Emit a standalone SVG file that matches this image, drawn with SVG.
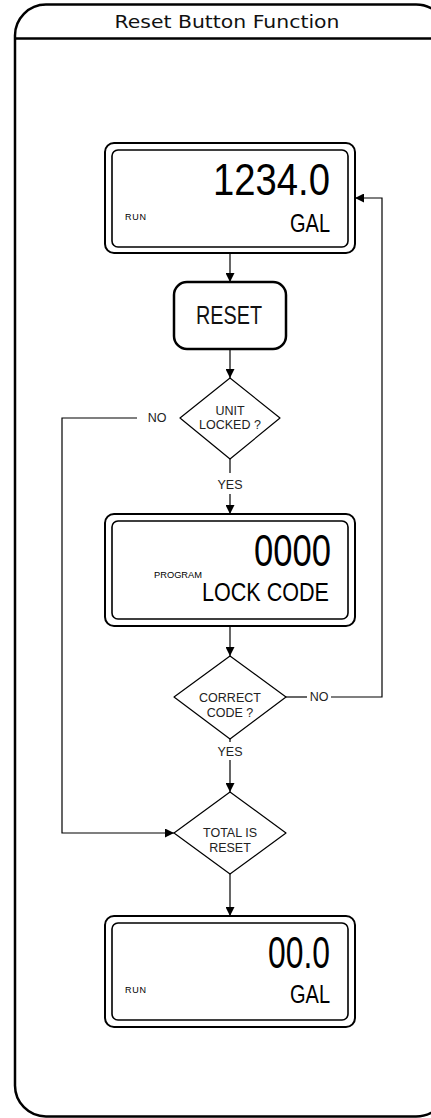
<svg xmlns="http://www.w3.org/2000/svg" width="431" height="1118" viewBox="0 0 431 1118">
<style>
.frame{fill:none;stroke:#000;stroke-width:2.5}
.outer{fill:#fff;stroke:#000;stroke-width:2}
.inner{fill:none;stroke:#000;stroke-width:1.6}
.dia{fill:#fff;stroke:#000;stroke-width:1.2;stroke-linejoin:round}
.con{fill:none;stroke:#000;stroke-width:1.2}
.lbl{font-family:"Liberation Sans",Arial,sans-serif;font-size:12.5px;fill:#222;text-anchor:middle}
.small{font-family:"Liberation Sans",Arial,sans-serif;font-size:9px;fill:#000}
.lcd{font-family:"Liberation Sans Narrow","Liberation Sans",Arial,sans-serif;fill:#000;text-anchor:end}
</style>
<defs>
<marker id="ah" viewBox="0 0 10 10" refX="10" refY="5" markerWidth="10" markerHeight="9" markerUnits="userSpaceOnUse" orient="auto">
<path d="M0,0 L10,5 L0,10 z" fill="#000"/>
</marker>
</defs>
<rect width="431" height="1118" fill="#fff"/>
<g id="frame">
<path class="frame" d="M15,36 A31,31 0 0 1 46,4.5 L416,4.5 A32,32 0 0 1 448,36.5 L448,1085 A32,32 0 0 1 416,1116.5 L46,1116.5 A31,31 0 0 1 15,1085 Z"/>
<line class="frame" x1="15" y1="38.5" x2="448" y2="38.5"/>
<text x="227" y="28" font-family="DejaVu Sans,Verdana,sans-serif" font-size="17" text-anchor="middle" textLength="225" lengthAdjust="spacingAndGlyphs" fill="#111">Reset Button Function</text>
</g>
<g id="connectors">
<line class="con" x1="230" y1="253" x2="230" y2="282" marker-end="url(#ah)"/>
<line class="con" x1="230" y1="349" x2="230" y2="378" marker-end="url(#ah)"/>
<line class="con" x1="230" y1="459" x2="230" y2="473"/>
<line class="con" x1="230" y1="494" x2="230" y2="514" marker-end="url(#ah)"/>
<line class="con" x1="230" y1="626" x2="230" y2="656" marker-end="url(#ah)"/>
<line class="con" x1="230" y1="739" x2="230" y2="742"/>
<line class="con" x1="230" y1="760" x2="230" y2="792" marker-end="url(#ah)"/>
<line class="con" x1="230" y1="874" x2="230" y2="916" marker-end="url(#ah)"/>
<polyline class="con" points="137,418 62,418 62,833 174,833" marker-end="url(#ah)"/>
<line class="con" x1="286" y1="697" x2="307" y2="697"/>
<polyline class="con" points="331,697 382,697 382,198 355,198" marker-end="url(#ah)"/>
<text class="lbl" x="157" y="422">NO</text>
<text class="lbl" x="230" y="489">YES</text>
<text class="lbl" x="319" y="701">NO</text>
<text class="lbl" x="230" y="756">YES</text>
</g>
<g id="display1">
<rect class="outer" x="105" y="143" width="250" height="110" rx="9"/>
<rect class="inner" x="112" y="150" width="236" height="97" rx="6"/>
<text class="lcd" x="330" y="195" font-size="44" textLength="117" lengthAdjust="spacingAndGlyphs">1234.0</text>
<text class="lcd" x="330" y="232" font-size="25" textLength="40" lengthAdjust="spacingAndGlyphs">GAL</text>
<text class="small" x="125" y="220" textLength="21">RUN</text>
</g>
<g id="reset">
<rect x="174" y="282" width="112" height="67" rx="13" fill="#fff" stroke="#000" stroke-width="2.5"/>
<text x="229" y="324" font-family="Liberation Sans Narrow,Liberation Sans,Arial,sans-serif" font-size="26" text-anchor="middle" textLength="66" lengthAdjust="spacingAndGlyphs" fill="#111">RESET</text>
</g>
<g id="unitLocked">
<polygon class="dia" points="230,378 280,418 230,459 180,418"/>
<text class="lbl" x="230" y="415">UNIT</text>
<text class="lbl" x="230" y="429">LOCKED ?</text>
</g>
<g id="display2">
<rect class="outer" x="105" y="514" width="250" height="112" rx="9"/>
<rect class="inner" x="112" y="521" width="236" height="98" rx="6"/>
<text class="lcd" x="331" y="566" font-size="44" textLength="77" lengthAdjust="spacingAndGlyphs">0000</text>
<text class="lcd" x="329" y="601" font-size="25" textLength="127" lengthAdjust="spacingAndGlyphs">LOCK CODE</text>
<text class="small" x="154" y="578" textLength="48" lengthAdjust="spacingAndGlyphs">PROGRAM</text>
</g>
<g id="correctCode">
<polygon class="dia" points="230,656 286,697 230,739 174,697"/>
<text class="lbl" x="230" y="702">CORRECT</text>
<text class="lbl" x="230" y="717">CODE ?</text>
</g>
<g id="totalReset">
<polygon class="dia" points="230,792 286,833 230,874 174,833"/>
<text class="lbl" x="230" y="837">TOTAL IS</text>
<text class="lbl" x="230" y="852">RESET</text>
</g>
<g id="display3">
<rect class="outer" x="105" y="916" width="250" height="111" rx="9"/>
<rect class="inner" x="112" y="923" width="236" height="97" rx="6"/>
<text class="lcd" x="330" y="968" font-size="44" textLength="62" lengthAdjust="spacingAndGlyphs">00.0</text>
<text class="lcd" x="330" y="1003" font-size="25" textLength="40" lengthAdjust="spacingAndGlyphs">GAL</text>
<text class="small" x="125" y="993" textLength="21">RUN</text>
</g>
</svg>
